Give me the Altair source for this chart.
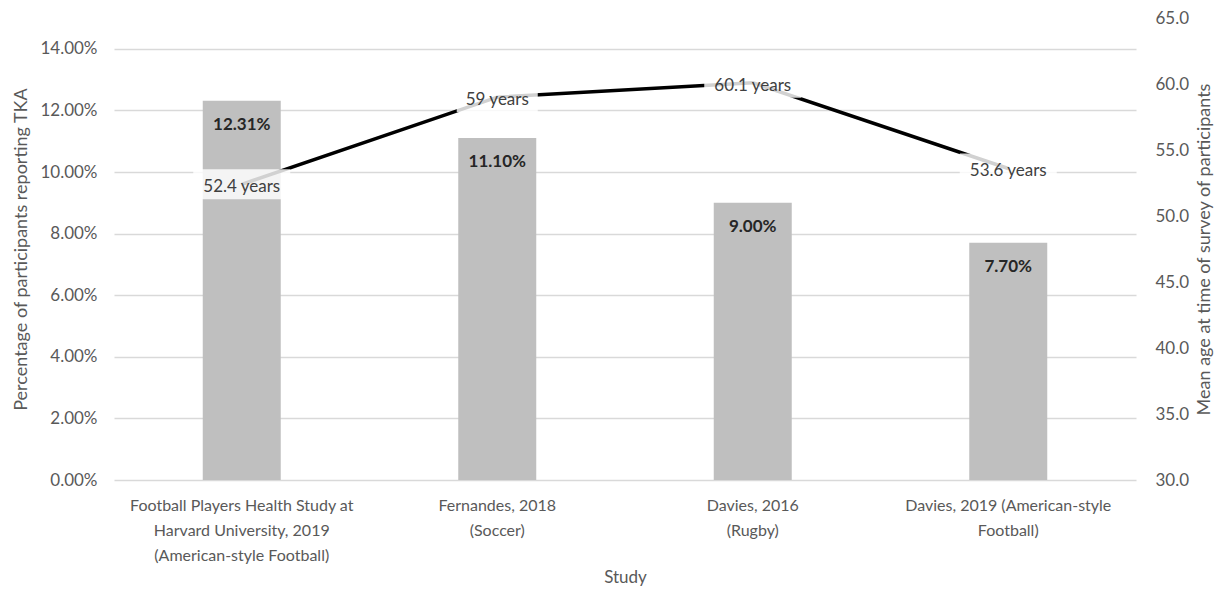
import altair as alt
import pandas as pd

studies = [
    "Football Players Health Study at\nHarvard University, 2019\n(American-style Football)",
    "Fernandes, 2018\n(Soccer)",
    "Davies, 2016\n(Rugby)",
    "Davies, 2019 (American-style\nFootball)",
]
pct_tka = [0.1231, 0.1110, 0.0900, 0.0770]
mean_age = [52.4, 59.0, 60.1, 53.6]

left_ticks = [0, 0.02, 0.04, 0.06, 0.08, 0.10, 0.12, 0.14]
right_ticks = [30, 35, 40, 45, 50, 55, 60, 65]

df = pd.DataFrame({"study": studies, "pct": pct_tka, "age": mean_age})

FONT = "Lato"
GREY_TXT = "#595959"

x_enc = alt.X(
    "study:N",
    sort=studies,
    scale=alt.Scale(paddingInner=0, paddingOuter=0),
    axis=alt.Axis(
        title="Study",
        labelExpr="split(datum.label, '\\n')",
        labelAngle=0,
        labelBaseline="top",
        labelPadding=17,
        labelLineHeight=25,
        labelFontSize=16,
        labelColor=GREY_TXT,
        labelFont=FONT,
        labelLimit=500,
        ticks=False,
        tickSize=0,
        domain=False,
        titleFont=FONT,
        titleFontSize=17,
        titleFontWeight="normal",
        titleColor=GREY_TXT,
        titleY=97,
        titleBaseline="middle",
    ),
)

y_left = alt.Y(
    "pct:Q",
    scale=alt.Scale(domain=[0, 0.15], nice=False, zero=True),
    axis=alt.Axis(
        title="Percentage of participants reporting TKA",
        values=left_ticks,
        format=".2%",
        grid=True,
        gridColor="#d9d9d9",
        gridWidth=1.3,
        domain=False,
        ticks=False,
        labelPadding=17,
        labelFont=FONT,
        labelFontSize=17,
        labelColor=GREY_TXT,
        titleFont=FONT,
        titleFontSize=18,
        titleFontWeight="normal",
        titleColor=GREY_TXT,
        titleAngle=270,
        titleX=-93,
        titleY=231,
        titleAlign="center",
        titleBaseline="middle",
    ),
)

y_right = alt.Y(
    "age:Q",
    scale=alt.Scale(domain=[30, 65], nice=False, zero=False),
    axis=alt.Axis(
        title="Mean age at time of survey of participants",
        orient="right",
        values=right_ticks,
        format=".1f",
        grid=False,
        domain=False,
        ticks=False,
        labelPadding=19,
        labelFont=FONT,
        labelFontSize=17,
        labelColor=GREY_TXT,
        titleFont=FONT,
        titleFontSize=18,
        titleFontWeight="normal",
        titleColor=GREY_TXT,
        titleAngle=270,
        titleX=68,
        titleY=231,
        titleAlign="center",
        titleBaseline="middle",
        titleLimit=600,
    ),
)

base = alt.Chart(df)

bars = base.mark_bar(color="#bfbfbf", size=78).encode(x=x_enc, y=y_left)
bar_text = base.mark_text(
    dy=24, baseline="middle", font=FONT, fontSize=17, fontWeight="bold", color="#262626"
).encode(x=alt.X("study:N", sort=studies), y=alt.Y("pct:Q"), text=alt.Text("pct:Q", format=".2%"))

left = alt.layer(bars, bar_text)

line = base.mark_line(color="#000000", strokeWidth=3.5).encode(
    x=alt.X("study:N", sort=studies), y=y_right
)
label_base = base.transform_calculate(
    age_label="datum.age + ' years'",
    box_w="length(datum.age + ' years') * 8 + 17",
)
boxes = label_base.mark_tick(color="white", opacity=0.82, thickness=30).encode(
    x=alt.X("study:N", sort=studies),
    y=alt.Y("age:Q"),
    size=alt.Size("box_w:Q", scale=None, legend=None),
)
age_text = label_base.mark_text(
    dy=3, baseline="middle", font=FONT, fontSize=17, color="#404040"
).encode(x=alt.X("study:N", sort=studies), y=alt.Y("age:Q"), text="age_label:N")

right = alt.layer(line, boxes, age_text)

chart = (
    alt.layer(left, right)
    .resolve_scale(y="independent")
    .properties(
        width=1022,
        height=462,
        autosize=alt.AutoSizeParams(type="none"),
        padding={"left": 106, "top": 10, "right": 81, "bottom": 108},
        background="white",
    )
    .configure_view(stroke=None)
)

chart.save("out.html", embed_options={"renderer": "svg", "actions": False})
